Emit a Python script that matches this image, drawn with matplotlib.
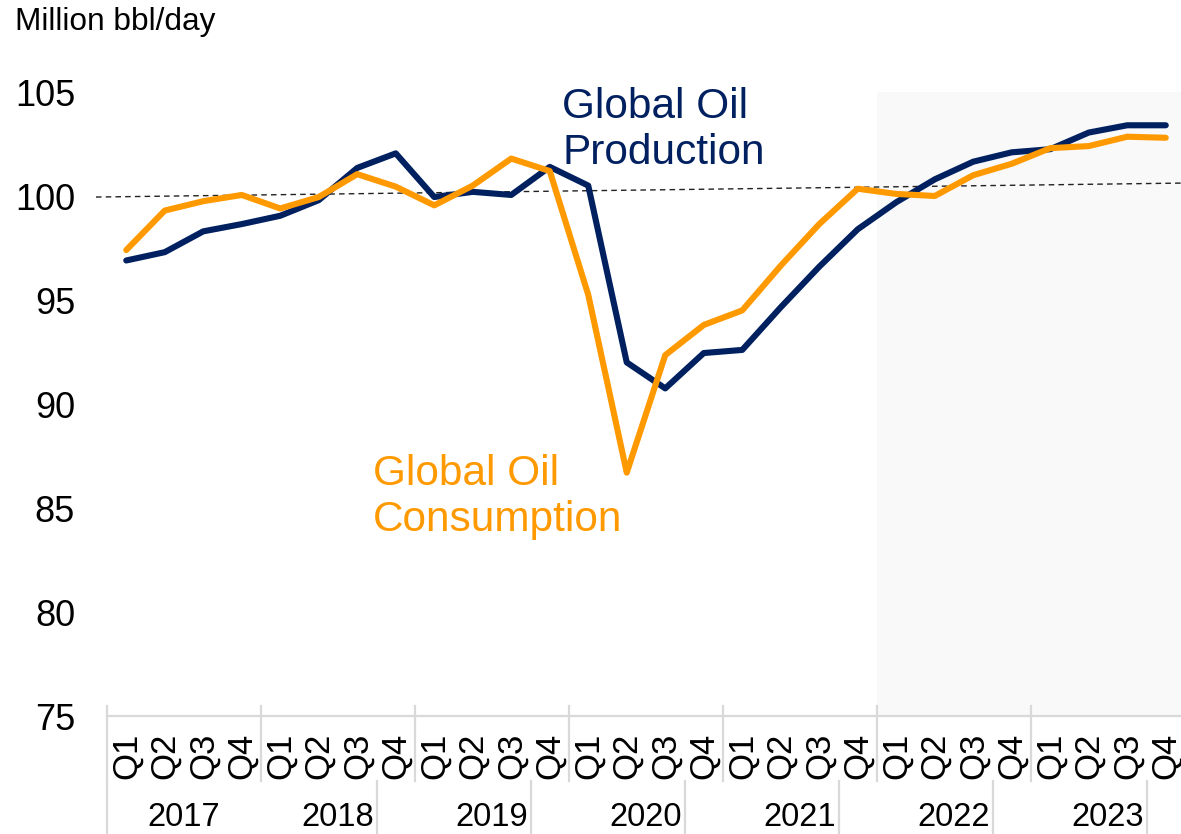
import matplotlib
matplotlib.use("Agg")
import matplotlib.pyplot as plt
from matplotlib.lines import Line2D
import matplotlib.transforms as mtransforms

plt.rcParams['font.family'] = ['Liberation Sans', 'DejaVu Sans']

years = ['2017', '2018', '2019', '2020', '2021', '2022', '2023']
quarters = ['Q1', 'Q2', 'Q3', 'Q4']

production = [96.9, 97.3, 98.3, 98.65, 99.05, 99.8, 101.35, 102.05,
              99.95, 100.2, 100.05, 101.4, 100.5, 92.0, 90.75, 92.45,
              92.6, 94.65, 96.6, 98.4, 99.7, 100.8, 101.65, 102.1,
              102.25, 103.05, 103.4, 103.4]
consumption = [97.4, 99.3, 99.75, 100.05, 99.4, 99.95, 101.05, 100.45,
               99.55, 100.5, 101.8, 101.2, 95.25, 86.7, 92.35, 93.8,
               94.5, 96.65, 98.65, 100.35, 100.1, 100.0, 101.0, 101.55,
               102.3, 102.4, 102.85, 102.8]
trend_start, trend_end = 99.95, 100.62
forecast_from_year = '2022'

navy = '#002060'
orange = '#FF9900'

W, H = 1181, 834
fig = plt.figure(figsize=(W / 100, H / 100), dpi=100)
ax_left, ax_right, ax_top, ax_bottom = 107, 1181, 92, 716
ax = fig.add_axes([ax_left / W, 1 - ax_bottom / H,
                   (ax_right - ax_left) / W, (ax_bottom - ax_top) / H])

n = len(years) * len(quarters)
x = list(range(n))
px = 38.5
x_lo = -0.5
x_hi = x_lo + (ax_right - ax_left) / px
ax.set_xlim(x_lo, x_hi)
ax.set_ylim(75, 105)

# forecast shading
fidx = years.index(forecast_from_year) * 4
ax.axvspan(fidx - 0.5, x_hi, color='#f9f9f9', zorder=0, lw=0)

# trend dashed line
tx0 = x_lo - 11 / px
ax.plot([tx0, x_hi], [trend_start, trend_end], ls=(0, (4, 3)), color='#222222',
        lw=1.0, clip_on=False, zorder=2)

ax.plot(x, production, color=navy, lw=4.4, solid_capstyle='round', zorder=3)
ax.plot(x, consumption, color=orange, lw=4.4, solid_capstyle='round', zorder=4)

for s in ['top', 'right', 'left']:
    ax.spines[s].set_visible(False)
ax.spines['bottom'].set_color('#d9d9d9')
ax.spines['bottom'].set_linewidth(1.6)

ax.set_yticks([75, 80, 85, 90, 95, 100, 105])
ax.tick_params(axis='y', length=0, pad=23, labelsize=26)
ax.set_xticks([])

# category axis labels and separators
trans = mtransforms.blended_transform_factory(ax.transData, fig.transFigure)
def fy(p):
    return 1 - p / H

grey = '#d9d9d9'
for yi in range(len(years)):
    b = yi * 4 - 0.5
    fig.add_artist(Line2D([b, b], [fy(706), fy(781)], transform=trans, color=grey, lw=1.6))
    for qi, q in enumerate(quarters):
        fig.text(yi * 4 + qi, fy(756), q, transform=trans, rotation=90,
                 ha='center', va='center', fontsize=25)
    fig.text(yi * 4 + 1.5, fy(818), years[yi], transform=trans,
             ha='center', va='center', fontsize=23.5)
fig.add_artist(Line2D([x_lo, x_lo], [fy(781), fy(834)], transform=trans, color=grey, lw=1.6))
for yi in range(1, len(years)):
    b = yi * 4 + 2.5
    fig.add_artist(Line2D([b, b], [fy(781), fy(834)], transform=trans, color=grey, lw=1.6))

# annotations
fig.text(15 / W, fy(22), 'Million bbl/day', ha='left', va='center', fontsize=22.8)
fig.text(562 / W, fy(130), 'Global Oil\nProduction', color=navy, ha='left',
         va='center', fontsize=30.5, linespacing=1.2)
fig.text(373 / W, fy(497), 'Global Oil\nConsumption', color=orange, ha='left',
         va='center', fontsize=30.5, linespacing=1.2)

fig.savefig('out.png', dpi=100)
